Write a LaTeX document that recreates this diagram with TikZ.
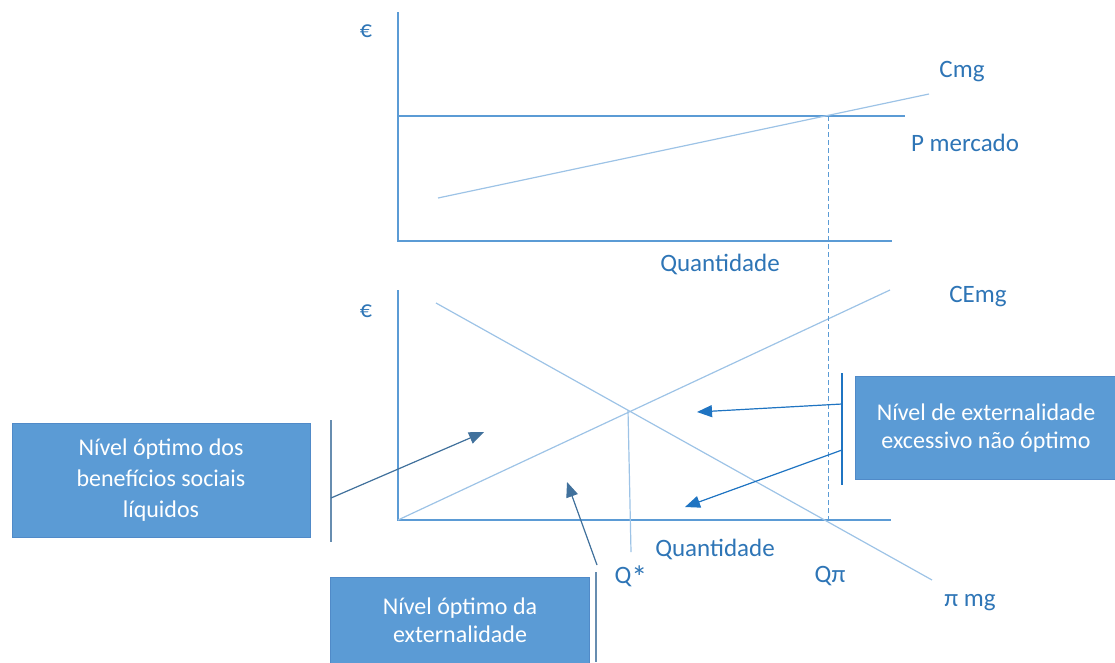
\documentclass[tikz,border=0pt]{standalone}
\usepackage{fontspec}
\setmainfont{Carlito}
\usetikzlibrary{arrows.meta}
\definecolor{axisblue}{RGB}{91,155,213}
\definecolor{curveblue}{RGB}{157,195,230}
\definecolor{labelblue}{RGB}{46,117,182}
\definecolor{boxfill}{RGB}{91,155,213}
\definecolor{boxedge}{RGB}{80,138,200}
\definecolor{darkarrow}{RGB}{65,113,156}
\definecolor{brightarrow}{RGB}{31,116,194}
\tikzset{
  axisline/.style={draw=axisblue, line width=1.3pt},
  curveline/.style={draw=curveblue, line width=1.2pt},
  guideline/.style={draw=axisblue, line width=1pt, dash pattern=on 5pt off 3pt},
  lbl/.style={text=labelblue, inner sep=0pt, font=\fontsize{25}{29}\selectfont},
  eurolbl/.style={text=labelblue, inner sep=0pt, font=\fontsize{24}{26}\selectfont},
  infobox/.style={fill=boxfill, draw=boxedge, line width=0.8pt, text=white,
    align=center, inner sep=0pt, font=\fontsize{24}{31}\selectfont},
  bracketline/.style={draw=darkarrow!80, line width=1.4pt},
  pointer/.style={-{Triangle[length=15pt,width=12pt]}, line width=1.2pt},
}
\begin{document}
\begin{tikzpicture}[x=1pt,y=-1pt]
\useasboundingbox (0,0) rectangle (1115,662);

% ---- upper panel: market price and private marginal cost
\coordinate (t0) at (398,241);
\coordinate (ttop) at (398,12);
\coordinate (tend) at (892,241);
\draw[axisline] (ttop) -- (t0) -- (tend);
\coordinate (pl) at (398,116);
\coordinate (pr) at (905,116);
\draw[axisline] (pl) -- (pr);
\coordinate (c1) at (438,198);
\coordinate (c2) at (929,94);
\draw[curveline] (c1) -- (c2);
\node[eurolbl] (eurotop) at (366,31) {€};
\node[lbl] (cmg) at (962,72) {Cmg};
\node[lbl] (pmerc) at (965,143) {P mercado};
\node[lbl] (qtop) at (720,264) {Quantidade};

% ---- lower panel: marginal profit and external marginal cost
\coordinate (b0) at (398,520);
\coordinate (btop) at (398,290);
\coordinate (bend) at (891,520);
\draw[axisline] (btop) -- (b0) -- (bend);
\coordinate (e2) at (890,290);
\draw[curveline] (b0) -- (e2);
\coordinate (m1) at (436,303);
\coordinate (m2) at (932,580);
\draw[curveline] (m1) -- (m2);
\coordinate (opt) at (628,410);
\coordinate (optfoot) at (631,552);
\draw[curveline] (opt) -- (optfoot);
\node[eurolbl] (eurobot) at (366,311) {€};
\node[lbl] (cemg) at (978,297) {CEmg};
\node[lbl] (qbot) at (715,549) {Quantidade};
\node[lbl] (qstar) at (631,577) {Q\raisebox{-5pt}{\fontsize{32}{32}\selectfont*}};
\node[lbl] (qpi) at (830,576) {Qπ};
\node[lbl] (pimg) at (970,603) {π mg};

% dashed guide at the private optimum
\coordinate (dtop) at (828,116);
\coordinate (dbot) at (828,520);
\draw[guideline] (dtop) -- (dbot);

% ---- annotation boxes
\node[infobox, minimum width=298pt, minimum height=114pt] (boxnet) at (161,480)
  {Nível óptimo dos\\benefícios sociais\\líquidos};
\node[infobox, minimum width=262pt, minimum height=103pt, font=\fontsize{24}{28}\selectfont] (boxexc) at (986,428)
  {Nível de externalidade\\excessivo não óptimo};
\node[infobox, minimum width=259pt, minimum height=86pt, font=\fontsize{24}{28}\selectfont] (boxext) at (460,620)
  {Nível óptimo da\\externalidade};

% brackets beside the boxes
\coordinate (lbt) at (331,420);
\coordinate (lbb) at (331,542);
\draw[bracketline] (lbt) -- (lbb);
\coordinate (rbt) at (842,373);
\coordinate (rbb) at (842,485);
\draw[draw=brightarrow, line width=1.4pt] (rbt) -- (rbb);
\coordinate (bbt) at (596,572);
\coordinate (bbb) at (596,662);
\draw[bracketline] (bbt) -- (bbb);

% pointers into the areas
\coordinate (ls) at (331,498);
\coordinate (lt) at (484,432);
\draw[pointer, draw=darkarrow, fill=darkarrow] (ls) -- (lt);
\coordinate (r1s) at (842,404);
\coordinate (r1t) at (697,412);
\draw[pointer, draw=brightarrow, fill=brightarrow] (r1s) -- (r1t);
\coordinate (r2s) at (842,450);
\coordinate (r2t) at (685,507);
\draw[pointer, draw=brightarrow, fill=brightarrow] (r2s) -- (r2t);
\coordinate (bs) at (597,565);
\coordinate (bt) at (567,482);
\draw[pointer, draw=darkarrow, fill=darkarrow] (bs) -- (bt);
\end{tikzpicture}
\end{document}
